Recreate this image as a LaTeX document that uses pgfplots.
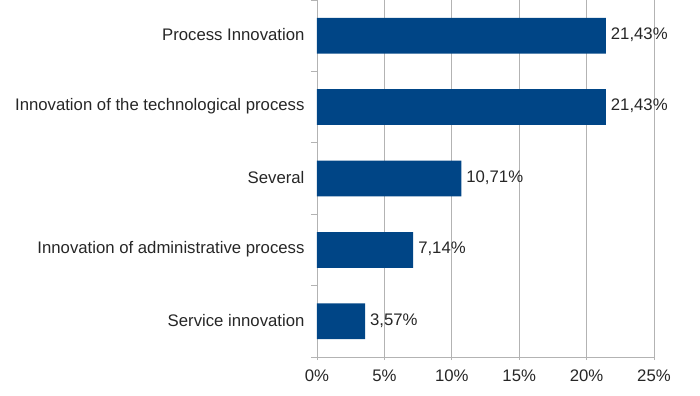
\documentclass[border=0pt]{standalone}
\usepackage{pgfplots}
\pgfplotsset{compat=1.18}
\usepackage{fontspec}
\setmainfont{Liberation Sans}
\definecolor{barblue}{HTML}{004586}
\definecolor{gridgray}{HTML}{B3B3B3}
\begin{document}
\begin{tikzpicture}
\path[use as bounding box] (-317bp,-39bp) rectangle (383bp,357bp);
\begin{axis}[
  at={(0,0)}, anchor=south west,
  scale only axis, width=337bp, height=357bp,
  xbar, bar width=0.5,
  xmin=0, xmax=25, ymin=-0.5, ymax=4.5,
  axis lines*=left,
  axis line style={gridgray, line width=0.8pt},
  xmajorgrids, grid style={gridgray, line width=0.8pt},
  xtick={0,5,10,15,20,25},
  xticklabel={\pgfmathprintnumber{\tick}\%},
  ytick={0,1,2,3,4},
  yticklabels={Service innovation, Innovation of administrative process, Several, Innovation of the technological process, Process Innovation},
  minor ytick={-0.5,0.5,1.5,2.5,3.5,4.5},
  every major y tick/.style={draw=none},
  every minor y tick/.style={gridgray, line width=0.8pt},
  tick align=outside, minor tick length=6bp, major tick length=3bp,
  every major x tick/.style={gridgray, line width=0.8pt},
  /pgf/number format/assume math mode=true,
  tick label style={font=\fontsize{16.8}{19}\selectfont, text=black!85},
  yticklabel style={xshift=-6bp, yshift=1bp},
  xticklabel style={yshift=-6bp},
  point meta=explicit symbolic,
  nodes near coords,
  nodes near coords style={anchor=west, xshift=1.5bp, yshift=1bp, font=\fontsize{16.8}{19}\selectfont, text=black!85},
  clip=false,
]
\addplot[fill=barblue, draw=none] coordinates {
  (3.57,0) [3,57\%]
  (7.14,1) [7,14\%]
  (10.71,2) [10,71\%]
  (21.43,3) [21,43\%]
  (21.43,4) [21,43\%]
};
\end{axis}
\end{tikzpicture}
\end{document}
